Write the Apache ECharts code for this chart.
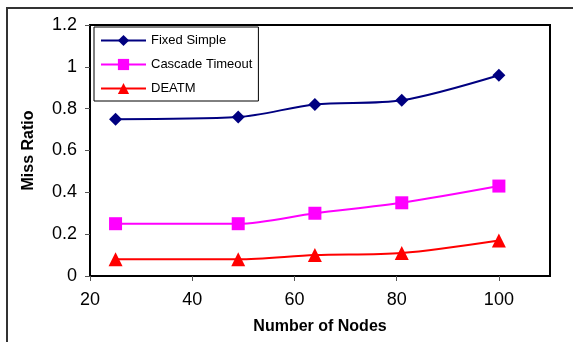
<!DOCTYPE html>
<html>
<head>
<meta charset="utf-8">
<script src="https://cdn.jsdelivr.net/npm/echarts@6/dist/echarts.min.js"></script>
<style>
html, body { margin: 0; padding: 0; background: #fff; }
#chart { width: 573px; height: 342px; }
</style>
</head>
<body>
<div id="chart"></div>
<script>
// values
const nodeCounts = [25, 49, 64, 81, 100];
const fixedSimple = [0.75, 0.76, 0.82, 0.84, 0.96];
const cascadeTimeout = [0.25, 0.25, 0.30, 0.35, 0.43];
const deatm = [0.08, 0.08, 0.10, 0.11, 0.17];
const xTickValues = [20, 40, 60, 80, 100];
const seriesNames = ['Fixed Simple', 'Cascade Timeout', 'DEATM'];

const font = '"Liberation Sans", Arial, sans-serif';

function pairs(ys) {
    return nodeCounts.map((x, i) => [x, ys[i]]);
}

function lineSeries(name, ys, color, symbol, size) {
    return {
        name: name,
        type: 'line',
        smooth: 0.3,
        data: pairs(ys),
        symbol: symbol,
        symbolSize: size,
        showAllSymbol: true,
        lineStyle: {color: color, width: 2},
        itemStyle: {color: color, borderWidth: 0},
        emphasis: {disabled: true},
        animation: false,
    };
}

const chart = echarts.init(document.getElementById('chart'));
chart.setOption({
    backgroundColor: '#fff',
    textStyle: {fontFamily: font},
    graphic: [
        {
            type: 'rect',
            shape: {x: 7, y: 8, width: 700, height: 500},
            style: {fill: 'none', stroke: '#333', lineWidth: 2},
            silent: true,
        },
    ],
    grid: {
        left: 90,
        right: 23,
        top: 25,
        bottom: 66,
        show: true,
        borderColor: '#000',
        borderWidth: 2,
        backgroundColor: '#fff',
    },
    legend: {
        orient: 'vertical',
        left: 94,
        top: 27,
        padding: [7, 6, 6, 6],
        itemWidth: 45,
        itemHeight: 14,
        itemGap: 11,
        backgroundColor: '#fff',
        borderColor: '#000',
        borderWidth: 1,
        textStyle: {color: '#000', fontSize: 13, fontFamily: font},
        data: seriesNames,
    },
    xAxis: {
        type: 'value',
        min: 20,
        max: 110,
        interval: 20,
        name: 'Number of Nodes',
        nameLocation: 'middle',
        nameGap: 43,
        nameTextStyle: {color: '#000', fontSize: 16, fontWeight: 'bold', fontFamily: font},
        axisLine: {show: true, lineStyle: {color: '#000', width: 2}},
        axisTick: {show: true, length: 5, lineStyle: {color: '#555'}, customValues: xTickValues},
        axisLabel: {color: '#000', fontSize: 18, margin: 15, customValues: xTickValues},
        splitLine: {show: false},
    },
    yAxis: {
        type: 'value',
        min: 0,
        max: 1.2,
        interval: 0.2,
        name: 'Miss Ratio',
        nameLocation: 'middle',
        nameGap: 53,
        nameTextStyle: {color: '#000', fontSize: 16, fontWeight: 'bold', fontFamily: font},
        axisLine: {show: true, lineStyle: {color: '#000', width: 2}},
        axisTick: {show: true, length: 5, lineStyle: {color: '#555'}},
        axisLabel: {color: '#000', fontSize: 18, margin: 13},
        splitLine: {show: false},
    },
    series: [
        lineSeries(seriesNames[0], fixedSimple, '#000080', 'diamond', 13),
        lineSeries(seriesNames[1], cascadeTimeout, '#ff00ff', 'rect', 13),
        lineSeries(seriesNames[2], deatm, '#ff0000', 'triangle', 14),
    ],
});
</script>
</body>
</html>
